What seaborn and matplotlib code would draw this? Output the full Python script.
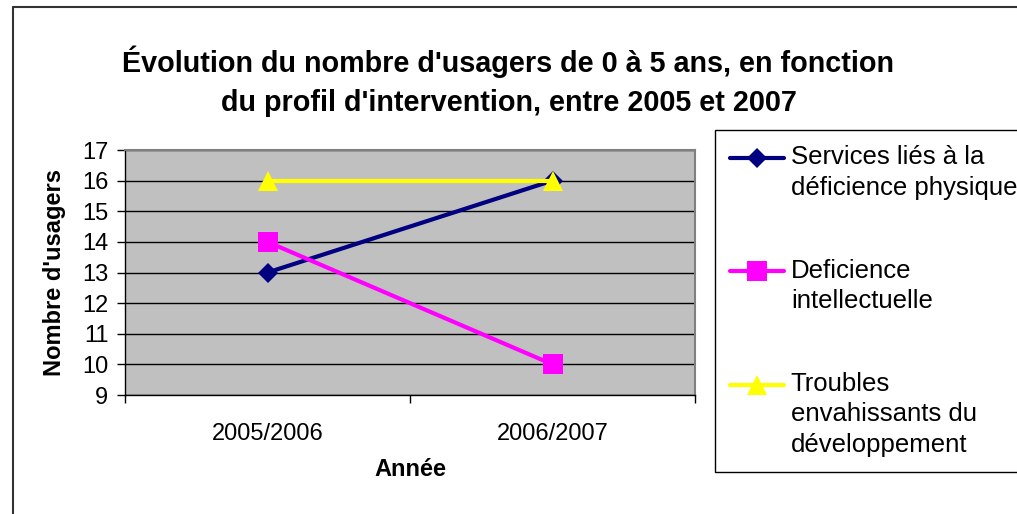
import numpy as np
import pandas as pd
import matplotlib
matplotlib.use("Agg")
import matplotlib.pyplot as plt
from matplotlib.lines import Line2D
from matplotlib.legend_handler import HandlerLine2D
import seaborn as sns

# Data
annees = ["2005/2006", "2006/2007"]
services_physique = [13, 16]
deficience_intellectuelle = [14, 10]
troubles_developpement = [16, 16]

profils = [
    "Services liés à la\ndéficience physique",
    "Deficience\nintellectuelle",
    "Troubles\nenvahissants du\ndéveloppement",
]
series = [services_physique, deficience_intellectuelle, troubles_developpement]
couleurs = ["#000080", "#FF00FF", "#FFFF00"]
marqueurs = ["D", "s", "^"]
tailles = [10, 14.5, 14.5]

y_ticks = list(range(9, 18))

df = pd.DataFrame(
    [(a, v, p) for p, vals in zip(profils, series) for a, v in zip(annees, vals)],
    columns=["Année", "Nombre d'usagers", "Profil"],
)

sns.set_style("white")
plt.rcParams["font.family"] = ["Liberation Sans", "DejaVu Sans"]
plt.rcParams["text.color"] = "black"
plt.rcParams["axes.labelcolor"] = "black"
plt.rcParams["xtick.color"] = "black"
plt.rcParams["ytick.color"] = "black"

W, H = 1017, 514
fig = plt.figure(figsize=(W / 100, H / 100), dpi=100)
fig.patch.set_facecolor("white")

# plot area
left, top, right, bottom = 125, 150, 695, 395
ax = fig.add_axes([left / W, 1 - bottom / H, (right - left) / W, (bottom - top) / H])
ax.set_facecolor("#C0C0C0")

sns.lineplot(
    data=df, x="Année", y="Nombre d'usagers", hue="Profil", style="Profil",
    hue_order=profils, style_order=profils,
    palette=dict(zip(profils, couleurs)),
    markers=dict(zip(profils, marqueurs)), dashes=False,
    linewidth=3, markeredgewidth=0, errorbar=None, ax=ax,
)
lines = ax.get_lines()[:3]
for ln, c, ms in zip(lines, couleurs, tailles):
    ln.set_markersize(ms)
    ln.set_markerfacecolor(c)
    ln.set_markeredgecolor(c)
ax.get_legend().remove()

# axes
ax.set_xlim(-0.5, 1.5)
ax.set_ylim(9, 17)
ax.set_yticks(y_ticks)
ax.set_yticklabels([str(t) for t in y_ticks])
ax.set_xticks([-0.5, 0.5, 1.5], minor=True)
ax.tick_params(axis="x", which="major", bottom=True, length=0, pad=20,
               labelsize=17, labelcolor="black")
ax.tick_params(axis="x", which="minor", bottom=True, length=6, width=1,
               color="black", direction="out")
ax.tick_params(axis="y", which="major", left=True, length=6, width=1, color="black",
               direction="out", pad=6, labelsize=17, labelcolor="black")
ax.yaxis.grid(True, color="black", linewidth=1)
ax.xaxis.grid(False)
ax.set_axisbelow(True)
for side in ["top", "right"]:
    ax.spines[side].set_color("#808080")
    ax.spines[side].set_linewidth(1.5)
for side in ["left", "bottom"]:
    ax.spines[side].set_color("black")
    ax.spines[side].set_linewidth(1)

ax.set_xlabel("Année", fontsize=17, fontweight="bold", color="black")
ax.xaxis.set_label_coords(0.5, (bottom - 470) / (bottom - top))
ax.xaxis.label.set_verticalalignment("center")
ax.set_ylabel("Nombre d'usagers", fontsize=17, fontweight="bold", color="black")
ax.yaxis.set_label_coords((55 - left) / (right - left), 0.5)
ax.yaxis.label.set_verticalalignment("center")

# title
fig.text(0.5, 1 - 81 / H,
         "Évolution du nombre d'usagers de 0 à 5 ans, en fonction\n"
         "du profil d'intervention, entre 2005 et 2007",
         ha="center", va="center", fontsize=20.7, fontweight="bold",
         linespacing=1.48, color="black")

# outer chart border
fig.add_artist(Line2D([13 / W, 13 / W], [0, 1 - 7 / H], transform=fig.transFigure,
                      color="#333333", linewidth=1.5))
fig.add_artist(Line2D([13 / W, 1], [1 - 7 / H, 1 - 7 / H], transform=fig.transFigure,
                      color="#333333", linewidth=1.5))


class FirstLineHandler(HandlerLine2D):
    """Align the legend key with the first line of a multi-line label."""

    def __init__(self, shift, **kw):
        super().__init__(**kw)
        self.shift = shift

    def create_artists(self, legend, orig_handle, xdescent, ydescent, width,
                       height, fontsize, trans):
        arts = super().create_artists(legend, orig_handle, xdescent, ydescent,
                                      width, height, fontsize, trans)
        for a in arts:
            a.set_ydata(np.asarray(a.get_ydata(), dtype=float) + self.shift)
        return arts


step_pt = 30 * 72 / 100
handler_map = {
    ln: FirstLineHandler((lab.count("\n")) / 2 * step_pt)
    for ln, lab in zip(lines, profils)
}
leg = fig.legend(
    lines, profils, loc="upper left",
    bbox_to_anchor=(715 / W, 1 - 130 / H), bbox_transform=fig.transFigure,
    borderaxespad=0, frameon=True, fancybox=False, edgecolor="black",
    framealpha=1, fontsize=18.5, handlelength=2.1, handletextpad=0.25,
    labelspacing=2.3, borderpad=0.6, handler_map=handler_map,
)
leg.get_frame().set_linewidth(1.0)
for t in leg.get_texts():
    t.set_linespacing(1.33)
    t.set_color("black")

fig.savefig("out.png", dpi=100)
